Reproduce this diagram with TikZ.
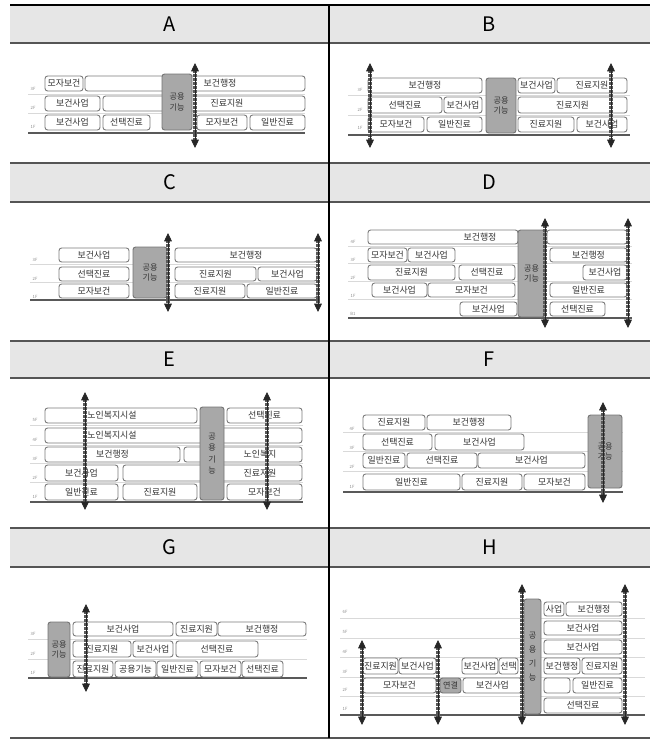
\documentclass[tikz,border=0pt]{standalone}
\usepackage{fontspec}
\setmainfont{Noto Sans CJK KR}
\usetikzlibrary{arrows.meta}
\definecolor{INK}{HTML}{333333}
\definecolor{RULE}{HTML}{555555}
\definecolor{HEAD}{HTML}{E6E6E6}
\definecolor{PUB}{HTML}{A8A8A8}
\definecolor{EDGE}{HTML}{7A7A7A}

% box from x1 to x2, y1 to y2 (pixel units, y down)
\newcommand{\blk}[7][room]{%
  \node[#1, minimum width={(#4-#3)*0.75pt}, minimum height={(#6-#5)*0.75pt}]
    (#2) at ({(#3+#4)/2},{(#5+#6)/2}) {#7};}
% two-headed hatched shaft
\newcommand{\lift}[4]{%
  \coordinate (#1t) at (#2,#3); \coordinate (#1b) at (#2,#4);
  \draw[shaft] (#1t) -- (#1b); \draw[core] (#1t) -- (#1b);}

\begin{document}
\begin{tikzpicture}[
  x=0.75pt, y=-0.75pt,
  room/.style={draw=EDGE, fill=white, rounded corners=2pt, line width=0.7pt,
    inner sep=0pt, font=\fontsize{6.7}{7}\selectfont, text=INK},
  pub/.style={room, fill=PUB, draw=black!55, align=center,
    font=\fontsize{6.1}{7.6}\selectfont},
  link/.style={pub},
  txt/.style={font=\fontsize{6.7}{7}\selectfont, text=INK, inner sep=0pt},
  flr/.style={font=\fontsize{3.2}{3.5}\selectfont, text=black!45, inner sep=0pt},
  floor/.style={black!15, line width=0.4pt},
  ground/.style={black!65, line width=1.5pt},
  shaft/.style={line width=2.6pt, black!65, dash pattern=on 0.5pt off 0.5pt,
    shorten <=4pt, shorten >=4pt},
  core/.style={line width=0.6pt, black!85,
    {Triangle[width=5.8pt,length=6.2pt]}-{Triangle[width=5.8pt,length=6.2pt]}},
  head/.style={font=\fontsize{15}{18}\selectfont, inner sep=0pt},
  rule/.style={RULE, line width=1pt},
]
\useasboundingbox (0,0) rectangle (652,740);

% table
\foreach \a/\b in {5/43,163/202,341/378,528/567} { \fill[HEAD] (10,\a) rectangle (650,\b); }
\foreach \y in {43,163,202,341,378,528,567} { \draw[rule] (10,\y) -- (650,\y); }
\draw[line width=2pt] (10,5) -- (650,5);
\draw[RULE, line width=0.8pt] (10,738) -- (650,738);
\draw[line width=0.9pt] (329,5) -- (329,738);
\foreach \n/\x/\y in {A/169.5/24,B/489.5/24,C/169.5/182.5,D/489.5/182.5,
                      E/169.5/359.5,F/489.5/359.5,G/169.5/547.5,H/489.5/547.5}
  { \node[head] (h\n) at (\x,\y) {\n}; }

% A
\foreach \y in {94,113} { \draw[floor] (28,\y) -- (305,\y); }
\foreach \y/\f in {89/3F,108/2F,127/1F} { \node[flr] (Af\f) at (33,\y) {\f}; }
\draw[ground] (28,133) -- (305,133);
\foreach \n/\a/\b/\c/\d/\t in {a31/45/83/76/91/모자보건, a32/85/305/76/91/{},
    a21/45/100/96/111/보건사업, a22/103/305/96/111/{},
    a11/45/100/115/130/보건사업, a12/103/150/115/130/선택진료,
    a13/197/247/115/130/모자보건, a14/250/305/115/130/일반진료}
  { \blk{\n}{\a}{\b}{\c}{\d}{\t} }
\node[txt] (a32t) at (220,83.5) {보건행정};
\node[txt] (a22t) at (227,103.5) {진료지원};
\blk[pub]{aP}{162}{192}{74}{130}{공용\\기능}
\lift{aL}{195}{63}{148}

% B
\foreach \y in {95,115} { \draw[floor] (348,\y) -- (630,\y); }
\foreach \y/\f in {90/3F,110/2F,128/1F} { \node[flr] (Bf\f) at (360,\y) {\f}; }
\draw[ground] (348,135) -- (630,135);
\foreach \n/\a/\b/\c/\d/\t in {b31/368/482/78/93/보건행정,
    b21/368/442/97/113/선택진료, b22/444/482/97/113/보건사업,
    b11/368/424/117/132/모자보건, b12/427/482/117/132/일반진료,
    b32/518/555/78/93/보건사업, b33/557/627/78/93/진료지원,
    b23/518/627/97/113/진료지원,
    b13/518/574/117/132/진료지원, b14/577/627/117/132/보건사업}
  { \blk{\n}{\a}{\b}{\c}{\d}{\t} }
\blk[pub]{bP}{486}{516}{78}{133}{공용\\기능}
\lift{bL}{370}{63}{148}
\lift{bR}{611}{63}{148}

% C
\foreach \y in {264.5,282.5} { \draw[floor] (30,\y) -- (320,\y); }
\foreach \y/\f in {260/3F,279/2F,297/1F} { \node[flr] (Cf\f) at (35,\y) {\f}; }
\draw[ground] (30,300) -- (320,300);
\foreach \n/\a/\b/\c/\d/\t in {c31/59/129/248/262/보건사업,
    c21/59/129/267/281/선택진료, c11/59/129/284/298/모자보건,
    c32/175/317/248/262/보건행정,
    c22/175/256/267/281/진료지원, c23/258/317/267/281/보건사업,
    c12/175/245/284/298/진료지원, c13/247/317/284/298/일반진료}
  { \blk{\n}{\a}{\b}{\c}{\d}{\t} }
\blk[pub]{cP}{133}{167}{247}{298}{공용\\기능}
\lift{cL}{168}{233}{312}
\lift{cR}{318}{233}{312}

% D
\foreach \y in {246,263.5,281.5,299.5} { \draw[floor] (348,\y) -- (632,\y); }
\foreach \y/\f in {242/4F,260/3F,278/2F,296/1F,314/B1} { \node[flr] (Df\f) at (353,\y) {\f}; }
\draw[ground] (348,318) -- (632,318);
\foreach \n/\a/\b/\c/\d/\t in {d51/368/518/230/244/{}, d52/547/627/230/244/{},
    d41/368/407/248/262/모자보건, d42/408/455/248/262/보건사업, d43/550/627/248/262/보건행정,
    d31/368/455/265/280/진료지원, d32/459/515/265/280/선택진료, d33/583/627/265/280/보건사업,
    d21/372/427/283/297/보건사업, d22/428/515/283/297/모자보건, d23/550/627/283/297/일반진료,
    d11/460/517/302/316/보건사업, d12/550/605/302/316/선택진료}
  { \blk{\n}{\a}{\b}{\c}{\d}{\t} }
\node[txt] (d51t) at (480,237) {보건행정};
\blk[pub]{dP}{518}{545}{230}{317}{공용\\기능}
\lift{dL}{545}{218}{328}
\lift{dR}{628}{218}{328}

% E
\foreach \y in {425.5,445,463.5,482.5} { \draw[floor] (30,\y) -- (303,\y); }
\foreach \y/\f in {420/5F,440/4F,459/3F,478/2F,497/1F} { \node[flr] (Ef\f) at (35,\y) {\f}; }
\draw[ground] (30,502) -- (303,502);
\foreach \n/\a/\b/\c/\d/\t in {e51/45/197/408/423/{}, e52/227/302/408/423/선택진료,
    e41/45/302/428/443/{},
    e31/45/180/447/462/보건행정, e32/184/302/447/462/{},
    e21/45/118/465/481/보건사업, e22/123/302/465/481/{},
    e11/45/118/484/500/일반진료, e12/123/197/484/500/진료지원, e13/227/302/484/500/모자보건}
  { \blk{\n}{\a}{\b}{\c}{\d}{\t} }
\node[txt] (e51t) at (112,415.5) {노인복지시설};
\node[txt] (e41t) at (112,435.5) {노인복지시설};
\node[txt] (e32t) at (260,454.5) {노인복지};
\node[txt] (e22t) at (260,473) {진료지원};
\blk[pub, font=\fontsize{6.1}{8.6}\selectfont]{eP}{200}{224}{407}{500}{공\\용\\기\\능}
\lift{eL}{85}{392}{510}
\lift{eR}{267}{392}{510}

% F
\foreach \y in {432,451.5,471} { \draw[floor] (343,\y) -- (623,\y); }
\foreach \y/\f in {429/4F,448/3F,467/2F,487/1F} { \node[flr] (Ff\f) at (352,\y) {\f}; }
\draw[ground] (343,492) -- (623,492);
\foreach \n/\a/\b/\c/\d/\t in {f41/363/425/415/430/진료지원, f42/427/511/415/430/보건행정,
    f31/363/432/434/450/선택진료, f32/435/524/434/450/보건사업,
    f21/363/405/453/468/일반진료, f22/407/477/453/468/선택진료, f23/478/585/453/468/보건사업,
    f11/363/460/474/490/일반진료, f12/462/522/474/490/진료지원, f13/524/585/474/490/모자보건}
  { \blk{\n}{\a}{\b}{\c}{\d}{\t} }
\blk[pub]{fP}{588}{622}{415}{488}{공용\\기능}
\lift{fL}{603}{402}{503}

% G
\foreach \y in {639,659} { \draw[floor] (28,\y) -- (307,\y); }
\foreach \y/\f in {634/3F,654/2F,673/1F} { \node[flr] (Gf\f) at (33,\y) {\f}; }
\draw[ground] (28,678) -- (307,678);
\foreach \n/\a/\b/\c/\d/\t in {g31/73/173/622/636/보건사업, g32/176/217/622/636/진료지원,
    g33/218/306/622/636/보건행정,
    g21/73/131/641/657/진료지원, g22/133/173/641/657/보건사업, g23/176/258/641/657/선택진료,
    g11/73/113/661/677/진료지원, g12/115/156/661/677/공용기능, g13/157/198/661/677/일반진료,
    g14/200/241/661/677/모자보건, g15/242/283/661/677/선택진료}
  { \blk{\n}{\a}{\b}{\c}{\d}{\t} }
\blk[pub]{gP}{48}{70}{622}{677}{공용\\기능}
\lift{gL}{86}{604}{692}

% H
\foreach \y in {618,638,657,677,696} { \draw[floor] (340,\y) -- (645,\y); }
\foreach \y/\f in {612/6F,632/5F,652/4F,672/3F,690/2F,709/1F} { \node[flr] (Hf\f) at (345,\y) {\f}; }
\draw[ground] (340,715) -- (645,715);
\foreach \n/\a/\b/\c/\d/\t in {h31/363/398/658/674/진료지원, h32/399/436/658/674/보건사업,
    h21/363/436/678/693/모자보건,
    h33/462/498/658/674/보건사업, h34/499/518/658/674/선택, h22/463/522/678/693/보건사업,
    h61/544/564/602/616/사업, h62/566/622/602/616/보건행정,
    h51/544/622/621/635/보건사업, h41/544/622/640/654/보건사업,
    h35/544/580/658/674/보건행정, h36/582/622/658/674/진료지원,
    h23/544/570/678/693/{}, h24/573/622/678/693/일반진료,
    h11/544/622/698/713/선택진료}
  { \blk{\n}{\a}{\b}{\c}{\d}{\t} }
\blk[link]{hK}{440}{461}{678}{693}{연결}
\blk[pub, font=\fontsize{6.1}{10.5}\selectfont]{hP}{524}{541}{599}{714}{공\\용\\기\\능}
\lift{hA}{362}{640}{725}
\lift{hB}{438}{640}{725}
\lift{hC}{522}{584}{725}
\lift{hD}{625}{584}{725}

\end{tikzpicture}
\end{document}
